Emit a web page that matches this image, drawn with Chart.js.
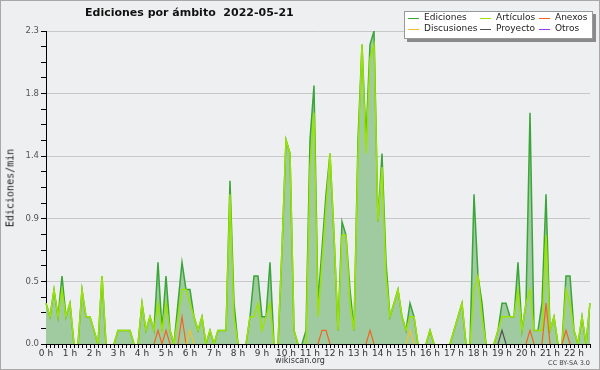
<!DOCTYPE html>
<html>
<head>
<meta charset="utf-8">
<script src="https://cdn.jsdelivr.net/npm/chart.js@4.4.0/dist/chart.umd.min.js"></script>
<style>
  html, body { margin: 0; padding: 0; background: #eeeff0; }
  #wrap { position: relative; width: 600px; height: 370px; background: #eeeff0; overflow: hidden; }
  #frame { position: absolute; left: 0; top: 0; width: 598px; height: 368px; border: 1px solid #a8a8a8; pointer-events: none; }
  canvas { position: absolute; left: 0; top: 0; }
  .txt { position: absolute; font-family: "DejaVu Sans", sans-serif; white-space: nowrap; }
  #title { left: 85px; top: 6px; font-size: 11px; font-weight: bold; color: #111; }
  #ytitle { left: 10px; top: 188px; font-family: "DejaVu Sans Mono", monospace; font-size: 10px; color: #222;
            transform: translate(-50%, -50%) rotate(-90deg); }
  #site { left: 300px; top: 356px; font-size: 8px; color: #333; transform: translateX(-50%); }
  #lic { right: 10px; top: 359px; font-size: 6.5px; color: #444; }
  #legend { position: absolute; left: 404px; top: 11px; width: 187px; height: 26px; background: #fff;
            border: 1px solid #999; box-shadow: 3px 3px 0 #8a8a8a; }
  .item { position: absolute; font-family: "DejaVu Sans", sans-serif; font-size: 9px; line-height: 11px; color: #222; white-space: nowrap; }
  .mark { position: absolute; width: 11px; height: 1px; }
</style>
</head>
<body>
<div id="wrap">
  <canvas id="chart" width="600" height="370"></canvas>
  <div class="txt" id="title">Ediciones por ámbito&nbsp;&nbsp;2022-05-21</div>
  <div class="txt" id="ytitle">Ediciones/min</div>
  <div class="txt" id="site">wikiscan.org</div>
  <div class="txt" id="lic">CC BY-SA 3.0</div>
  <div id="legend"></div>
  <div id="frame"></div>
</div>
<script>
// 10-minute slots from 0:00 to 22:40, values in edits per minute
const hourLabels = ['0 h','1 h','2 h','3 h','4 h','5 h','6 h','7 h','8 h','9 h','10 h','11 h',
                    '12 h','13 h','14 h','15 h','16 h','17 h','18 h','19 h','20 h','21 h','22 h'];
const yTickLabels = ['0.0', '0.5', '0.9', '1.4', '1.8', '2.3'];
const yMax = 2.3;

const ediciones = [
  0.3,0.2,0.4,0.2,0.5,0.2,0.3,0,0,0.4,0.2,0.2,
  0.1,0,0.5,0,0,0,0.1,0.1,0.1,0.1,0,0,
  0.3,0.1,0.2,0.1,0.6,0.1,0.5,0.1,0,0.3,0.6,0.4,
  0.4,0.2,0.1,0.2,0,0.1,0,0.1,0.1,0.1,1.2,0.3,
  0,0,0,0.2,0.5,0.5,0.2,0.2,0.6,0,0,0.7,
  1.5,1.4,0.1,0,0,0.1,1.5,1.9,0.3,0.7,1.1,1.4,
  0.8,0.1,0.9,0.8,0.4,0.1,1.5,2.2,1.5,2.2,2.3,0.9,
  1.4,0.6,0.2,0.3,0.4,0.2,0.1,0.3,0.2,0,0,0,
  0.1,0,0,0,0,0,0.1,0.2,0.3,0,0,1.1,
  0.5,0.3,0,0,0,0.1,0.3,0.3,0.2,0.2,0.6,0.1,
  0.3,1.7,0.1,0.1,0.3,1.1,0.1,0.2,0,0,0.5,0.5,
  0.1,0,0.2,0,0.3
];
const articulos = [
  0.3,0.2,0.4,0.2,0.4,0.2,0.3,0,0,0.4,0.2,0.2,
  0.1,0,0.5,0,0,0,0.1,0.1,0.1,0.1,0,0,
  0.3,0.1,0.2,0.1,0.3,0.1,0.3,0.1,0,0.2,0.4,0.4,
  0.3,0.2,0.1,0.2,0,0.1,0,0.1,0.1,0.1,1.1,0.2,
  0,0,0,0.2,0.2,0.3,0.1,0.2,0.3,0,0,0.7,
  1.5,1.4,0.1,0,0,0,1.3,1.7,0.2,0.6,1.0,1.4,
  0.8,0.1,0.8,0.8,0.3,0.1,1.4,2.2,1.4,2.1,2.2,0.9,
  1.3,0.5,0.2,0.3,0.4,0.2,0.1,0.2,0.2,0,0,0,
  0.1,0,0,0,0,0,0.1,0.2,0.3,0,0,0.4,
  0.5,0.2,0,0,0,0.1,0.2,0.2,0.2,0.2,0.4,0.1,
  0.3,0.4,0.1,0.1,0.1,0.8,0.1,0.2,0,0,0.4,0.3,
  0.1,0,0.2,0,0.3
];
const anexos = [
  0,0,0,0,0,0,0,0,0,0,0,0,
  0,0,0,0,0,0,0,0,0,0,0,0,
  0,0,0,0,0.1,0,0.1,0,0,0,0.2,0,
  0,0,0,0,0,0,0,0,0,0,0,0,
  0,0,0,0,0,0,0,0,0,0,0,0,
  0,0,0,0,0,0,0,0,0,0.1,0.1,0,
  0,0,0,0,0,0,0,0,0,0.1,0,0,
  0,0,0,0,0,0,0,0,0,0,0,0,
  0,0,0,0,0,0,0,0,0,0,0,0,
  0,0,0,0,0,0,0,0,0,0,0,0,
  0,0.1,0,0,0,0.3,0,0,0,0,0.1,0,
  0,0,0,0,0
];
const discusiones = [
  0,0,0,0,0,0,0,0,0,0,0,0,
  0,0,0,0,0,0,0,0,0,0,0,0,
  0,0,0,0,0,0,0,0,0,0,0,0,
  0.1,0,0,0,0,0,0,0,0,0,0,0,
  0,0,0,0,0,0,0,0,0,0,0,0,
  0,0,0,0,0,0,0,0,0,0,0,0,
  0,0,0,0,0,0,0,0,0,0,0,0,
  0,0,0,0,0,0,0,0.1,0,0,0,0,
  0,0,0,0,0,0,0,0,0,0,0,0,
  0,0,0,0,0,0,0,0,0,0,0,0,
  0,0,0,0,0,0,0,0,0,0,0,0,
  0,0,0,0,0
];
const proyecto = [
  0,0,0,0,0,0,0,0,0,0,0,0,
  0,0,0,0,0,0,0,0,0,0,0,0,
  0,0,0,0,0,0,0,0,0,0,0,0,
  0,0,0,0,0,0,0,0,0,0,0,0,
  0,0,0,0,0,0,0,0,0,0,0,0,
  0,0,0,0,0,0,0,0,0,0,0,0,
  0,0,0,0,0,0,0,0,0,0,0,0,
  0,0,0,0,0,0,0,0,0,0,0,0,
  0,0,0,0,0,0,0,0,0,0,0,0,
  0,0,0,0,0,0,0.1,0,0,0,0,0,
  0,0,0,0,0,0,0,0,0,0,0,0,
  0,0,0,0,0
];
const otros = [
  0,0,0,0,0,0,0,0,0,0,0,0,
  0,0,0,0,0,0,0,0,0,0,0,0,
  0,0,0,0,0,0,0,0,0,0,0,0,
  0,0,0,0,0,0,0,0,0,0,0,0,
  0,0,0,0,0,0,0,0,0,0,0,0,
  0,0,0,0,0,0,0,0,0,0,0,0,
  0,0,0,0,0,0,0,0,0,0,0,0,
  0,0,0,0,0,0,0,0,0,0,0,0,
  0,0,0,0,0,0,0,0,0,0,0,0,
  0,0,0,0,0,0,0,0,0,0,0,0,
  0,0,0,0,0,0,0,0,0,0,0,0,
  0,0,0,0,0
];

// slot labels for the category axis (HH:MM)
const slots = [];
for (let i = 0; i < ediciones.length; i++) {
  const h = Math.floor(i / 6), m = (i % 6) * 10;
  slots.push(h + ':' + String(m).padStart(2, '0'));
}

const series = [
  { label: 'Ediciones',   data: ediciones,   color: '#3aa63a', width: 1.5 },
  { label: 'Artículos',   data: articulos,   color: '#9ce400', width: 1.5 },
  { label: 'Anexos',      data: anexos,      color: '#f06424', width: 1.2 },
  { label: 'Discusiones', data: discusiones, color: '#f4c22c', width: 1.2 },
  { label: 'Proyecto',    data: proyecto,    color: '#505050', width: 1.2 },
  { label: 'Otros',       data: otros,       color: '#9b3cf0', width: 1.2 }
];

// hide segments lying flat on the axis
const hideZero = ctx => (ctx.p0.parsed.y === 0 && ctx.p1.parsed.y === 0) ? 'rgba(0,0,0,0)' : undefined;

const datasets = series.map((s, idx) => ({
  label: s.label,
  data: s.data,
  borderColor: s.color,
  borderWidth: s.width,
  backgroundColor: idx === 0 ? '#a0cba0' : s.color,
  fill: idx === 0 ? 'origin' : false,
  pointRadius: 0,
  tension: 0,
  order: series.length - idx,
  segment: { borderColor: hideZero }
}));

new Chart(document.getElementById('chart'), {
  type: 'line',
  data: { labels: slots, datasets },
  options: {
    responsive: false,
    animation: false,
    layout: { padding: { left: 0, top: 31, right: 10, bottom: 10 } },
    plugins: { legend: { display: false }, tooltip: { enabled: false }, title: { display: false } },
    scales: {
      x: {
        type: 'category',
        offset: false,
        z: 1,
        afterFit: scale => { scale.height = 16; },
        border: { color: '#000', width: 1 },
        grid: { drawOnChartArea: false, drawTicks: true, tickLength: 4, tickColor: '#000', offset: false },
        ticks: {
          autoSkip: false, maxRotation: 0, minRotation: 0, padding: 0,
          font: { family: 'DejaVu Sans', size: 9 }, color: '#333',
          callback: (v, i) => (i % 6 === 0 ? hourLabels[i / 6] : '')
        }
      },
      y: {
        min: 0, max: yMax,
        z: 1,
        afterFit: scale => { scale.width = 46; },
        afterBuildTicks: scale => {
          const t = [];
          for (let k = 0; k <= 20; k++) t.push({ value: yMax * k / 20 });
          scale.ticks = t;
        },
        border: { color: '#000', width: 1 },
        grid: {
          color: ctx => (ctx.index % 4 === 0 && ctx.index > 0 ? '#c8c8c8' : 'rgba(0,0,0,0)'),
          tickColor: '#000', tickLength: 5, lineWidth: 1
        },
        ticks: {
          padding: 2, font: { family: 'DejaVu Sans', size: 8.5 }, color: '#555',
          callback: (v, i) => (i % 4 === 0 ? yTickLabels[i / 4] : '')
        }
      }
    }
  }
});

// legend box, 3 columns x 2 rows
const legend = document.getElementById('legend');
const cols = [3, 75, 134];
const legendOrder = ['Ediciones', 'Artículos', 'Anexos', 'Discusiones', 'Proyecto', 'Otros'];
legendOrder.forEach((name, k) => {
  const s = series.find(d => d.label === name);
  const col = k % 3, row = Math.floor(k / 3);
  const mark = document.createElement('div');
  mark.className = 'mark';
  mark.style.left = cols[col] + 'px';
  mark.style.top = (6 + row * 11) + 'px';
  mark.style.background = s.color;
  legend.appendChild(mark);
  const item = document.createElement('div');
  item.className = 'item';
  item.style.left = (cols[col] + 16) + 'px';
  item.style.top = (0 + row * 11) + 'px';
  item.textContent = name;
  legend.appendChild(item);
});
</script>
</body>
</html>
